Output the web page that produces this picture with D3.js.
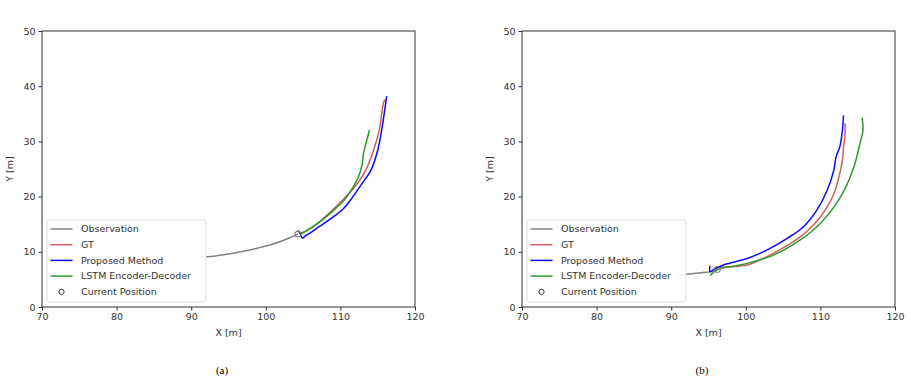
<!DOCTYPE html>
<html><head><meta charset="utf-8">
<script src="https://cdn.jsdelivr.net/npm/d3@7"></script>
<style>body{margin:0;background:#fff}svg{display:block}</style>
</head><body>
<script>
// ---- data ----
const xTicks = [70, 80, 90, 100, 110, 120];
const yTicks = [0, 10, 20, 30, 40, 50];
const legendLabels = ["Observation", "GT", "Proposed Method", "LSTM Encoder-Decoder", "Current Position"];
const captions = ["(a)", "(b)"];

// panel (a)
const obsA = [[91.0,9.0],[93,9.2],[95,9.6],[97,10.1],[99,10.7],[101,11.4],[103,12.4],[104.3,13.2]];
const gtA = [[104.4,13.3],[105.3,13.7],[106.9,15.1],[108.4,16.9],[109.8,18.7],[111.1,20.5],[112.4,22.6],[113.4,24.8],[114.3,27.8],[115.2,32.0],[115.8,37.1],[116.0,37.6]];
const propA = [[104.6,13.4],[104.9,12.5],[105.3,12.9],[105.8,13.3],[107.1,14.5],[108.2,15.5],[109.3,16.6],[110.4,17.8],[111.3,19.3],[112.7,22.0],[114.1,24.8],[115.0,28.4],[115.6,32.6],[116.2,38.2]];
const lstmA = [[104.3,13.9],[104.8,13.3],[105.2,13.6],[106.9,15.1],[109.1,17.5],[110.6,19.5],[111.6,21.5],[112.4,23.5],[112.9,25.7],[113.1,27.8],[113.6,30.5],[113.9,32.1]];
const curA = [104.3, 13.2];

// panel (b)
const obsB = [[91.0,5.8],[92.5,6.0],[94,6.2],[95.2,6.4],[96.2,6.7]];
const gtB = [[96.1,7.2],[98.0,7.3],[100.2,7.6],[102.0,8.6],[103.7,9.7],[105.5,11.1],[107.3,12.7],[108.8,14.5],[110.0,16.3],[111.0,18.3],[111.8,20.5],[112.3,22.6],[112.7,24.8],[113.0,27.0],[113.1,29.0],[113.3,31.2],[113.3,33.3]];
const propB = [[95.2,7.5],[95.2,6.4],[95.7,6.8],[96.3,7.2],[97.0,7.6],[98.6,8.2],[100.2,8.8],[102.8,10.3],[105.5,12.4],[107.7,14.5],[109.5,17.5],[110.9,21.1],[111.8,24.8],[112.1,27.2],[112.6,29.0],[112.9,31.4],[113.1,34.7]];
const lstmB = [[95.2,5.7],[95.8,6.4],[96.6,7.0],[98.4,7.4],[100.2,7.9],[103.7,9.4],[106.9,11.8],[109.5,14.5],[111.8,18.1],[113.3,21.4],[114.5,25.4],[115.3,29.6],[115.7,32.0],[115.6,34.3]];
const curB = [96.2, 6.8];

const panels = [
  {left: 42, obs: obsA, gt: gtA, prop: propA, lstm: lstmA, cur: curA, cap: captions[0]},
  {left: 522, obs: obsB, gt: gtB, prop: propB, lstm: lstmB, cur: curB, cap: captions[1]}
];
const colors = {obs: "#808080", gt: "#c9605e", prop: "#0a0aff", lstm: "#2a9a2a"};

const W = 911, H = 387;
const svg = d3.select("body").append("svg").attr("width", W).attr("height", H);
const font = "DejaVu Sans, sans-serif";

panels.forEach(p => {
  const top = 31, bottom = 307, pw = 373;
  const x = d3.scaleLinear().domain([70, 120]).range([p.left, p.left + pw]);
  const y = d3.scaleLinear().domain([0, 50]).range([bottom, top]);
  const g = svg.append("g");
  const line = d3.line().x(d => x(d[0])).y(d => y(d[1])).curve(d3.curveCatmullRom.alpha(0.5));

  g.append("path").datum(p.obs).attr("d", line).attr("fill","none").attr("stroke", colors.obs).attr("stroke-width",1.5);
  g.append("path").datum(p.gt).attr("d", line).attr("fill","none").attr("stroke", colors.gt).attr("stroke-width",1.5);
  g.append("path").datum(p.prop).attr("d", line).attr("fill","none").attr("stroke", colors.prop).attr("stroke-width",1.5);
  g.append("path").datum(p.lstm).attr("d", line).attr("fill","none").attr("stroke", colors.lstm).attr("stroke-width",1.5);
  g.append("circle").attr("cx", x(p.cur[0])).attr("cy", y(p.cur[1])).attr("r", 3)
    .attr("fill","none").attr("stroke","#666").attr("stroke-width",1);

  // axes
  const xa = g.append("g").attr("transform", `translate(0,${bottom})`)
    .call(d3.axisBottom(x).tickValues(xTicks).tickSize(3.5).tickPadding(3).tickSizeOuter(0));
  const ya = g.append("g").attr("transform", `translate(${p.left},0)`)
    .call(d3.axisLeft(y).tickValues(yTicks).tickSize(3.5).tickPadding(3).tickSizeOuter(0));
  [xa, ya].forEach(a => {
    a.select(".domain").remove();
    a.selectAll("line").attr("stroke","#333");
    a.selectAll("text").attr("font-family", font).attr("font-size", 9.5).attr("fill","#333");
  });
  g.append("rect").attr("x", p.left).attr("y", top).attr("width", pw).attr("height", bottom - top)
    .attr("fill","none").attr("stroke","#333").attr("stroke-width",1);

  g.append("text").attr("x", p.left + pw/2).attr("y", 336).attr("text-anchor","middle")
    .attr("font-family", font).attr("font-size", 9.5).attr("fill","#333").text("X [m]");
  g.append("text").attr("transform", `translate(${p.left - 29},${(top+bottom)/2}) rotate(-90)`)
    .attr("text-anchor","middle").attr("font-family", font).attr("font-size", 9.5).attr("fill","#333").text("Y [m]");

  // legend
  const lx = p.left + 5, ly = 220;
  const lg = g.append("g");
  lg.append("rect").attr("x", lx).attr("y", ly).attr("width", 159).attr("height", 82).attr("rx", 2)
    .attr("fill","#fff").attr("fill-opacity",0.85).attr("stroke","#ddd").attr("stroke-width",1);
  const keys = ["obs","gt","prop","lstm","cur"];
  keys.forEach((k, i) => {
    const yy = ly + 9 + i * 15.7;
    if (k === "cur") {
      lg.append("circle").attr("cx", lx + 14.5).attr("cy", yy).attr("r", 2.6)
        .attr("fill","none").attr("stroke","#333").attr("stroke-width",1);
    } else {
      lg.append("line").attr("x1", lx + 3.5).attr("x2", lx + 25.5).attr("y1", yy).attr("y2", yy)
        .attr("stroke", colors[k]).attr("stroke-width", 1.5);
    }
    lg.append("text").attr("x", lx + 34).attr("y", yy + 3.3).attr("font-family", font)
      .attr("font-size", 9.5).attr("fill","#333").text(legendLabels[i]);
  });

  svg.append("text").attr("x", p.left + 180).attr("y", 374).attr("text-anchor","middle")
    .attr("font-family", "Liberation Serif, serif").attr("font-size", 11).attr("fill","#000").text(p.cap);
});
</script>
</body></html>
